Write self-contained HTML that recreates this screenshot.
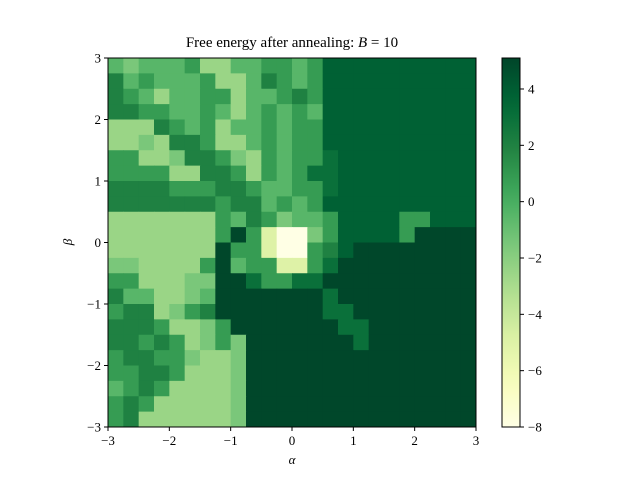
<!DOCTYPE html>
<html><head><meta charset="utf-8"><style>
body{margin:0;background:#fff;}
svg text{font-family:"Liberation Serif",serif;fill:#000;}
</style></head><body>
<svg id="chart" width="640" height="480" viewBox="0 0 640 480" xmlns="http://www.w3.org/2000/svg">
<rect width="640" height="480" fill="#fff"/>
<text x="292" y="47" font-size="15" text-anchor="middle">Free energy after annealing: <tspan font-style="italic">B</tspan> = 10</text>
<g id="cells"></g>
<rect x="108" y="58" width="368" height="369" fill="none" stroke="#000" stroke-width="1"/>
<g id="axes"></g>
<text x="292" y="464" font-size="13" font-style="italic" text-anchor="middle">α</text>
<text x="72" y="242" font-size="13" font-style="italic" text-anchor="middle" transform="rotate(-90 72 242)">β</text>
<defs><linearGradient id="cbg" x1="0" y1="1" x2="0" y2="0"></linearGradient></defs>
<rect x="502" y="58" width="18" height="369" fill="url(#cbg)" stroke="#000" stroke-width="1"/>
<g id="cbaxis"></g>
</svg>
<script>
const codes = {W:-8,Y:-5,L:-2.5,l:-1.5,M:-0.5,m:0.8,D:2,d:3,U:3.8,B:5};
const gridRows = [
"MlMMMmLLMMmmMmUUUUUUUUUU",
"DMmMMMmLLMDmMmUUUUUUUUUU",
"DmMLMMmmLMMmDmUUUUUUUUUU",
"DDmmMMmMLMmMmMUUUUUUUUUU",
"LLLDmMmLMMmMmmUUUUUUUUUU",
"LLlLDDmLLMmMmmUUUUUUUUUU",
"mmLLlDDmlLmMmmdUUUUUUUUU",
"mmmmLLDDmLmMmddUUUUUUUUU",
"DDDDmmmDDmMMmmdUUUUUUUUU",
"DDDDDDDmDDMmMmUUUUUUUUUU",
"LLLLLLLmMDmlMMmUUUUmmUUU",
"LLLLLLLmBmYWWlmUUUUmBBBB",
"LLLLLLLBmmYWWmDUBBBBBBBB",
"llLLLLmBMmmYYmdBBBBBBBBB",
"mmLLLllBBdmmddBBBBBBBBBB",
"DMMLLlMBBBBBBBdBBBBBBBBB",
"mDDLlmDBBBBBBBddBBBBBBBB",
"DDDmLLlmBBBBBBBddBBBBBBB",
"DDmDmLlmlBBBBBBBdBBBBBBB",
"mDDmmlLLlBBBBBBBBBBBBBBB",
"mmDDmLLLlBBBBBBBBBBBBBBB",
"MmDmLLLLlBBBBBBBBBBBBBBB",
"mDmLLLLLlBBBBBBBBBBBBBBB",
"mDLLLLLLlBBBBBBBBBBBBBBB"];
const xTicks = [-3,-2,-1,0,1,2,3];
const yTicks = [-3,-2,-1,0,1,2,3];
const cbTicks = [-8,-6,-4,-2,0,2,4];
const vmin = -8, vmax = 5.1;

const stops = ["#ffffe5","#f7fcb9","#d9f0a3","#addd8e","#78c679","#41ab5d","#238443","#006837","#004529"];
function hex(h){return [1,3,5].map(i=>parseInt(h.substr(i,2),16));}
function cmap(v){
  let t=Math.max(0,Math.min(1,(v-vmin)/(vmax-vmin)))*(stops.length-1);
  let i=Math.min(stops.length-2,Math.floor(t)),f=t-i;
  let a=hex(stops[i]),b=hex(stops[i+1]);
  return "rgb("+a.map((c,k)=>Math.round(c+(b[k]-c)*f)).join(",")+")";
}
const X0=108,X1=476,Y0=58,Y1=427;
const xs=a=>X0+(a+3)/6*(X1-X0);
const ys=b=>Y1-(b+3)/6*(Y1-Y0);
const NS="http://www.w3.org/2000/svg";
const cells=document.getElementById("cells");
const n=gridRows.length;
gridRows.forEach((row,r)=>{
  [...row].forEach((ch,c)=>{
    const a0=-3+6*c/n,a1=-3+6*(c+1)/n,b0=3-6*r/n,b1=3-6*(r+1)/n;
    const el=document.createElementNS(NS,"rect");
    
    
    el.setAttribute("x",xs(a0));el.setAttribute("y",ys(b0));
    el.setAttribute("width",xs(a1)-xs(a0)+0.5);el.setAttribute("height",ys(b1)-ys(b0)+0.5);
    el.setAttribute("fill",cmap(codes[ch]));
    cells.appendChild(el);
  });
});
const axes=document.getElementById("axes");
function add(parent,tag,attrs,txt){const e=document.createElementNS(NS,tag);for(const k in attrs)e.setAttribute(k,attrs[k]);if(txt!==undefined)e.textContent=txt;parent.appendChild(e);return e;}
const lab=v=>v<0?"\u2212"+(-v):String(v);
xTicks.forEach(v=>{
  const x=xs(v);
  add(axes,"line",{x1:x,x2:x,y1:Y1,y2:Y1+4,stroke:"#000"});
  const t=add(axes,"text",{x:x,y:Y1+18,"font-size":"13","text-anchor":"middle"},lab(v));
  
  
});
yTicks.forEach(v=>{
  const y=ys(v);
  add(axes,"line",{x1:X0-4,x2:X0,y1:y,y2:y,stroke:"#000"});
  const t=add(axes,"text",{x:X0-7,y:y+4.5,"font-size":"13","text-anchor":"end"},lab(v));
  
  
});
const g=document.getElementById("cbg");
for(let i=0;i<=20;i++){const v=vmin+(vmax-vmin)*i/20;add(g,"stop",{offset:(i/20),"stop-color":cmap(v)});}
const cb=document.getElementById("cbaxis");
const cy=v=>Y1-(v-vmin)/(vmax-vmin)*(Y1-Y0);
cbTicks.forEach(v=>{
  const y=cy(v);
  add(cb,"line",{x1:520,x2:524,y1:y,y2:y,stroke:"#000"});
  const t=add(cb,"text",{x:528,y:y+4.5,"font-size":"13"},lab(v));
  
  
});
</script>
</body></html>
